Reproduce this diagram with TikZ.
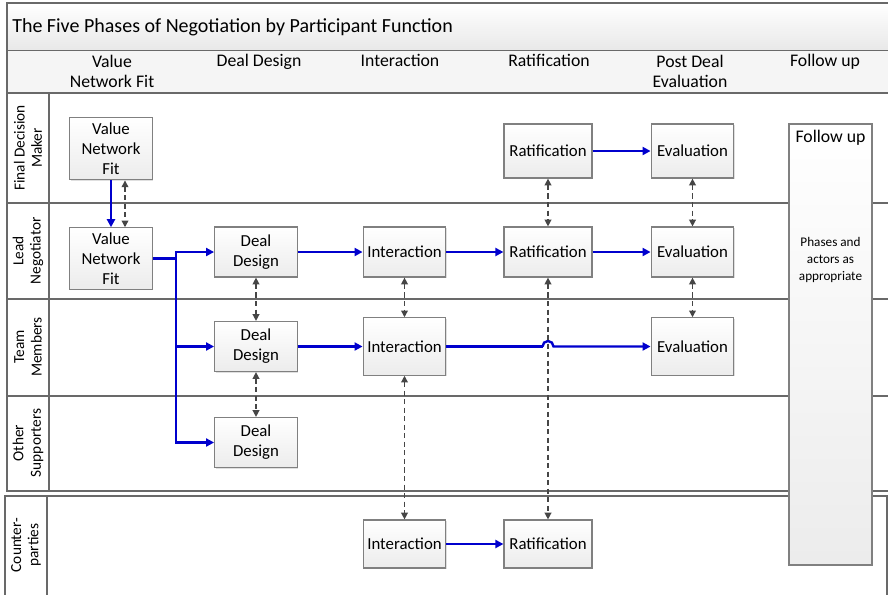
\documentclass[tikz,border=0pt]{standalone}
\usepackage{fontspec}
\setmainfont{Carlito}
\usetikzlibrary{arrows.meta,shadows}
\definecolor{flowblue}{RGB}{0,0,205}
\definecolor{laneline}{RGB}{105,105,105}
\definecolor{linkgray}{RGB}{70,70,70}
\definecolor{boxline}{RGB}{128,128,128}
\begin{document}
\begin{tikzpicture}[x=0.75pt,y=-0.75pt]

        \useasboundingbox (0,0) rectangle (888,594);

        \fill[top color=white,bottom color=gray!18] (7,3) rectangle (890,50.5);
        \fill[gray!8] (7,50.5) rectangle (890,93);
        \begin{scope}[laneline,line width=1.1pt]
          \draw (890,3) -- (7,3) -- (7,491) -- (890,491);
          \foreach \y in {50.5,93,203,299,396}
            \draw (7,\y) -- (890,\y);
          \draw (49,93) -- (49,491);
          \draw (5,600) -- (5,496) -- (887,496) -- (887,600);
          \draw (47,496) -- (47,600);
        \end{scope}

        \node[anchor=west,inner sep=0pt,font=\fontsize{15}{18}\selectfont] (title) at (12,27)
          {The Five Phases of Negotiation by Participant Function};

        \begin{scope}[every node/.style={align=center,font=\fontsize{13.3}{15.5}\selectfont}]
          \node (h1) at (112,71.5) {Value\\Network Fit};
          \node[anchor=base] (h2) at (259,66.5) {Deal Design};
          \node[anchor=base] (h3) at (400,66.5) {Interaction};
          \node[anchor=base] (h4) at (549,66.5) {Ratification};
          \node (h5) at (690,71.5) {Post Deal\\Evaluation};
          \node[anchor=base] (h6) at (825,66.5) {Follow up};
        \end{scope}

        \begin{scope}[every node/.style={rotate=90,align=center,font=\fontsize{11.5}{13}\selectfont}]
          \node (l1) at (28,148) {Final Decision\\Maker};
          \node (l2) at (28,251) {Lead\\Negotiator};
          \node (l3) at (28,347) {Team\\Members};
          \node (l4) at (28,443) {Other\\Supporters};
          \node (l5) at (26,545) {Counter-\\parties};
        \end{scope}

        \begin{scope}[every node/.style={draw=boxline,line width=0.9pt,top color=white,bottom color=gray!15,
            drop shadow={shadow xshift=0.8pt,shadow yshift=-0.8pt,opacity=0.25},
            minimum width=62pt,minimum height=37.5pt,align=center,inner sep=1pt,
            font=\fontsize{12.6}{15}\selectfont}]
          \node (v1) at (111,148.5) [minimum height=47pt] {Value\\Network\\Fit};
          \node (v2) at (111,258.5) [minimum height=46pt] {Value\\Network\\Fit};
          \node (d1) at (256,252)   {Deal\\Design};
          \node (d2) at (256,346.5) {Deal\\Design};
          \node (d3) at (256,442.5) {Deal\\Design};
          \node (i1) at (404.5,252) {Interaction};
          \node (i2) at (404.5,346.5) [minimum height=43pt] {Interaction};
          \node (i3) at (404.5,544) [minimum height=36pt] {Interaction};
          \node (r1) at (548,151)   [minimum width=66pt,minimum height=40.5pt] {Ratification};
          \node (r2) at (548,252)   [minimum width=66pt] {Ratification};
          \node (r3) at (548,544)   [minimum width=66pt,minimum height=36pt] {Ratification};
          \node (e1) at (692.5,151) [minimum height=40.5pt] {Evaluation};
          \node (e2) at (692.5,252) {Evaluation};
          \node (e3) at (692.5,346.5) [minimum height=43pt] {Evaluation};
          \node (fu) at (830.5,344.5) [minimum width=62.25pt,minimum height=330.75pt] {};
        \end{scope}

        \node[anchor=north,inner sep=0pt,font=\fontsize{13.3}{15}\selectfont] (futitle)
          at ([yshift=-5pt]fu.north) {Follow up};
        \node[align=center,font=\fontsize{9.9}{12.75}\selectfont] (funote) at (830.5,260)
          {Phases and\\actors as\\appropriate};

        \coordinate (split) at (176,258.5);
        \coordinate (hop) at (542.5,346.5);

        \begin{scope}[every edge/.style={draw=flowblue,line width=1.8pt,-{Triangle[length=6pt,width=6pt]}}]
          \path (v1) edge (v2);
          \path (d1) edge (i1);
          \path (i1) edge (r2);
          \path (r2) edge (e2);
          \path (r1) edge (e1);
          \path (d2) edge (i2);
          \path (i3) edge (r3);
          \path (v2.east) edge[-] (split);
          \path (split) edge[to path={|- (\tikztotarget)}] (d1.west);
          \path (split) edge[to path={|- (\tikztotarget)}] (d2.west);
          \path (split) edge[to path={|- (\tikztotarget)}] (d3.west);
          \path (i2.east) edge[-] (hop);
          \path (hop) edge[to path={arc[start angle=180,end angle=360,radius=5.5] -- (\tikztotarget)}] (e3.west);
        \end{scope}

        \begin{scope}[every edge/.style={draw=linkgray,line width=1pt,dash pattern=on 3.8pt off 2.6pt,
            {Triangle[length=5pt,width=5pt]}-{Triangle[length=5pt,width=5pt]}}]
          \path ([xshift=10.5pt]v1.south) edge ([xshift=10.5pt]v2.north);
          \path (d1) edge (d2);
          \path (d2) edge (d3);
          \path (i1) edge (i2);
          \path (i2) edge (i3);
          \path (r1) edge (r2);
          \path (r2) edge (r3);
          \path (e1) edge (e2);
          \path (e2) edge (e3);
        \end{scope}

      \end{tikzpicture}
\end{document}
